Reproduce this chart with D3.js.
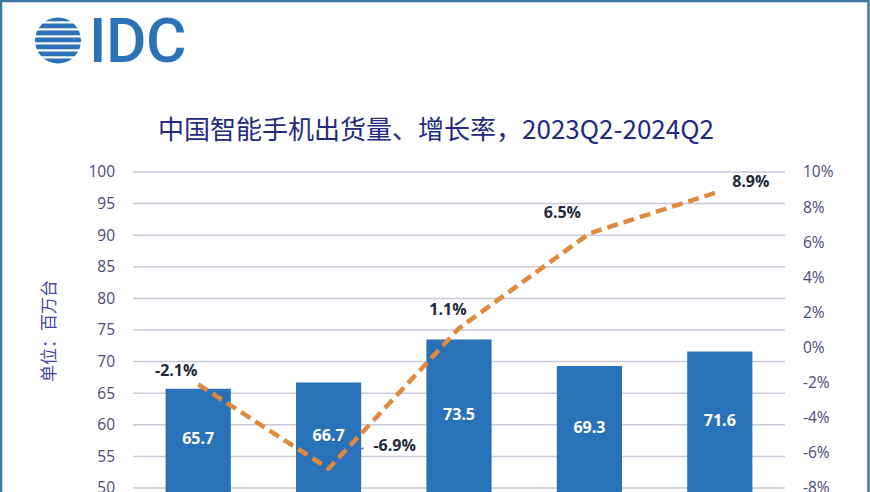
<!DOCTYPE html>
<html><head><meta charset="utf-8">
<script src="https://cdn.jsdelivr.net/npm/d3@7"></script>
<style>
html,body{margin:0;padding:0;background:#fff;}
svg{display:block;}
</style></head>
<body>
<svg id="c" width="870" height="492"></svg>
<script>
const categories = ["2023Q2","2023Q3","2023Q4","2024Q1","2024Q2"];
const shipments = [65.7, 66.7, 73.5, 69.3, 71.6];
const growth = [-2.1, -6.9, 1.1, 6.5, 8.9];
const leftTicks = [50,55,60,65,70,75,80,85,90,95,100];
const rightTicks = [-8,-6,-4,-2,0,2,4,6,8,10];
const title = "中国智能手机出货量、增长率，2023Q2-2024Q2";
const unitLabel = "单位：百万台";

const svg = d3.select("#c");
const W = 870, H = 492;
const plotL = 133, plotR = 785, plotT = 172, plotB = 488;

// border
svg.append("rect").attr("x",1).attr("y",1).attr("width",W-2.5).attr("height",H+10)
  .attr("fill","#fff").attr("stroke","#3d7aa3").attr("stroke-width",2.5);

// logo
const logo = svg.append("g");
const cp = svg.append("defs").append("clipPath").attr("id","globe");
cp.append("circle").attr("cx",58).attr("cy",40.5).attr("r",23);
const stripes = [[16,22,0],[23,29,4],[30,36,0],[37,43,-3],[44,50,2],[51,57,-2],[58,65,0]];
const gg = logo.append("g").attr("clip-path","url(#globe)");
stripes.forEach(s=>{
  gg.append("rect").attr("x",33+s[2]).attr("y",s[0]+0.5).attr("width",52).attr("height",s[1]-s[0]-1.2).attr("fill","#2b73b6");
});
logo.append("text").attr("x",89).attr("y",62).attr("font-family","Roboto, 'Open Sans', sans-serif")
  .attr("font-size",62).attr("font-weight",500).attr("fill","#2b73b6").attr("letter-spacing",-0.5).text("IDC");

// title
svg.append("text").attr("x",436).attr("y",139).attr("text-anchor","middle")
  .attr("font-family","'Noto Sans CJK SC', 'Noto Sans', sans-serif").attr("font-size",26)
  .attr("fill","#242a7e").text(title);

const x = d3.scaleBand().domain(categories).range([plotL,plotR]).paddingInner(0.5).paddingOuter(0.25);
const yL = d3.scaleLinear().domain([50,100]).range([plotB,plotT]);
const yR = d3.scaleLinear().domain([-8,10]).range([plotB,plotT]);

// gridlines
svg.append("g").selectAll("line").data(leftTicks).join("line")
  .attr("x1",plotL).attr("x2",plotR).attr("y1",d=>yL(d)).attr("y2",d=>yL(d))
  .attr("stroke","#c9c9da").attr("stroke-width",1.5);

// left axis
const axL = svg.append("g").attr("transform",`translate(${plotL},0)`)
  .call(d3.axisLeft(yL).tickValues(leftTicks).tickSize(0).tickPadding(18));
axL.select(".domain").remove();
axL.selectAll("text").attr("font-family","'Open Sans', sans-serif").attr("font-size",15.5).attr("fill","#4a4a78");

// right axis
const axR = svg.append("g").attr("transform",`translate(${plotR},0)`)
  .call(d3.axisRight(yR).tickValues(rightTicks).tickSize(0).tickPadding(18).tickFormat(d=>d+"%"));
axR.select(".domain").remove();
axR.selectAll("text").attr("font-family","'Open Sans', sans-serif").attr("font-size",15.5).attr("fill","#4a4a78");

// unit label
svg.append("text").attr("transform","translate(55,331) rotate(-90)").attr("text-anchor","middle")
  .attr("font-family","'Noto Sans CJK SC', sans-serif").attr("font-size",17).attr("fill","#4848a0").text(unitLabel);

// bars
svg.append("g").selectAll("rect").data(shipments).join("rect")
  .attr("x",(d,i)=>x(categories[i])).attr("width",x.bandwidth())
  .attr("y",d=>yL(d)).attr("height",d=>plotB+4-yL(d)).attr("fill","#2a72b7");

svg.append("g").selectAll("text").data(shipments).join("text")
  .attr("x",(d,i)=>x(categories[i])+x.bandwidth()/2)
  .attr("y",d=>(yL(d)+plotB)/2+6).attr("text-anchor","middle")
  .attr("font-family","'Open Sans', sans-serif").attr("font-weight",700).attr("font-size",16)
  .attr("fill","#fff").text(d=>d.toFixed(1));

// leader line for -6.9%
const cx = i => x(categories[i])+x.bandwidth()/2;
svg.append("line").attr("x1",cx(1)+3).attr("y1",yR(growth[1])-3).attr("x2",cx(1)+35).attr("y2",yR(growth[1])-21)
  .attr("stroke","#4a62d0").attr("stroke-width",1.2);

// line
const line = d3.line().x((d,i)=>cx(i)).y(d=>yR(d));
svg.append("path").datum(growth).attr("d",line).attr("fill","none")
  .attr("stroke","#e08a3e").attr("stroke-width",4.5).attr("stroke-dasharray","11,6").attr("stroke-linejoin","round");

// line labels
const lblOff = [[-22,-8],[66,-18],[-11,-13],[-27,-15],[31,-4]];
svg.append("g").selectAll("text").data(growth).join("text")
  .attr("x",(d,i)=>cx(i)+lblOff[i][0]).attr("y",(d,i)=>yR(d)+lblOff[i][1]).attr("text-anchor","middle")
  .attr("font-family","'Open Sans', sans-serif").attr("font-weight",700).attr("font-size",16)
  .attr("fill","#1f2a3a").text(d=>d.toFixed(1)+"%");
</script>
</body></html>
